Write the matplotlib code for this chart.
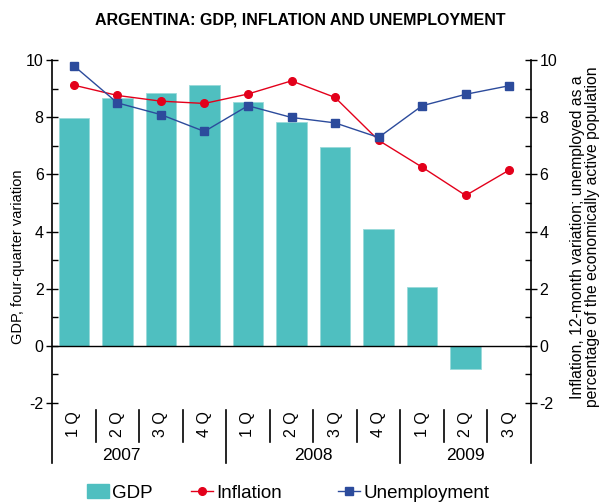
import matplotlib
matplotlib.use("Agg")
import matplotlib.pyplot as plt
from matplotlib.lines import Line2D
from matplotlib.patches import Patch
import numpy as np

plt.rcParams['font.family'] = ['Liberation Sans', 'DejaVu Sans']
plt.rcParams['axes.unicode_minus'] = False

quarters = ["1 Q", "2 Q", "3 Q", "4 Q", "1 Q", "2 Q", "3 Q", "4 Q", "1 Q", "2 Q", "3 Q"]
years = ["2007", "2008", "2009"]
gdp = [7.97, 8.67, 8.84, 9.12, 8.54, 7.84, 6.96, 4.08, 2.05, -0.8, np.nan]
inflation = [9.12, 8.76, 8.56, 8.48, 8.81, 9.27, 8.69, 7.19, 6.25, 5.26, 6.15]
unemployment = [9.8, 8.5, 8.09, 7.5, 8.4, 7.99, 7.8, 7.29, 8.4, 8.8, 9.1]

teal = "#4fbfc0"
red = "#e3001b"
blue = "#2c4b9c"

fig = plt.figure(figsize=(6.01, 5.04), dpi=100)
ax = fig.add_axes([52/601, 1-403/504, (531-52)/601, (403-60)/504])
ax2 = ax.twinx()

x = np.arange(len(quarters))
ax.bar(x, gdp, width=0.7, color=teal, edgecolor="#9adada", linewidth=0.6, zorder=2)
ax.axhline(0, color="black", lw=1.0, zorder=3)
ax2.plot(x, inflation, color=red, lw=1.0, marker="o", ms=5.5, zorder=4)
ax2.plot(x, unemployment, color=blue, lw=1.0, marker="s", ms=5.5, zorder=4)

for a in (ax, ax2):
    a.set_xlim(-0.5, len(quarters) - 0.5)
    a.set_ylim(-2, 10)
    a.set_yticks(range(-2, 11, 2))
    a.set_yticks(range(-1, 10, 2), minor=True)
    for s in a.spines.values():
        s.set_visible(False)
    a.set_xticks([])
ax.tick_params(axis="y", which="major", direction="inout", length=8, width=1, labelsize=11.5, pad=2)
ax.tick_params(axis="y", which="minor", direction="in", length=4, width=1)
ax2.tick_params(axis="y", which="major", direction="inout", length=8, width=1, labelsize=11.5, pad=2)
ax2.tick_params(axis="y", which="minor", direction="in", length=4, width=1)

bottom = -(463-403)/343
for xa in (0, 1):
    ax.add_line(Line2D([xa, xa], [1, bottom], transform=ax.transAxes, color="black", lw=1.2, clip_on=False))

n = len(quarters)
q_top = -(410-403)/343
q_bot = -(442-403)/343
for i in range(1, n):
    xb = i / n
    yb = bottom if i in (4, 8) else q_bot
    ax.add_line(Line2D([xb, xb], [q_top, yb], transform=ax.transAxes, color="black", lw=1.2, clip_on=False))

trans = ax.get_xaxis_transform()
qy = -(424-403)/343
for i, q in enumerate(quarters):
    ax.text(i, qy, q, rotation=90, ha="center", va="center", fontsize=11.5, transform=trans)
yy = -(456-403)/343
for yr, xc in zip(years, [1.1, 5.5, 9.0]):
    ax.text(xc, yy, yr, ha="center", va="center", fontsize=12.5, transform=trans)

fig.text(0.5, 1-20/504, "ARGENTINA: GDP, INFLATION AND UNEMPLOYMENT", ha="center", va="center",
         fontsize=11.5, fontweight="bold")
fig.text(18/601, 1-257/504, "GDP, four-quarter variation", rotation=90, ha="center", va="center", fontsize=10.5)
fig.text(585/601, 1-237/504, "Inflation, 12-month variation; unemployed as a\npercentage of the economically active population",
         rotation=90, ha="center", va="center", fontsize=11.3, linespacing=0.95)

handles = [
    (Patch(facecolor=teal, edgecolor=teal), "GDP", 87),
    (Line2D([], [], color=red, lw=1.0, marker="o", ms=5.5), "Inflation", 191),
    (Line2D([], [], color=blue, lw=1.0, marker="s", ms=5.5), "Unemployment", 338),
]
for h, lab, px in handles:
    fig.legend([h], [lab], loc="center left", bbox_to_anchor=(px/601, 1-493/504), frameon=False,
               fontsize=13.5, handlelength=1.15, handletextpad=0.2, borderpad=0, borderaxespad=0)

fig.savefig("out.png", dpi=100)
